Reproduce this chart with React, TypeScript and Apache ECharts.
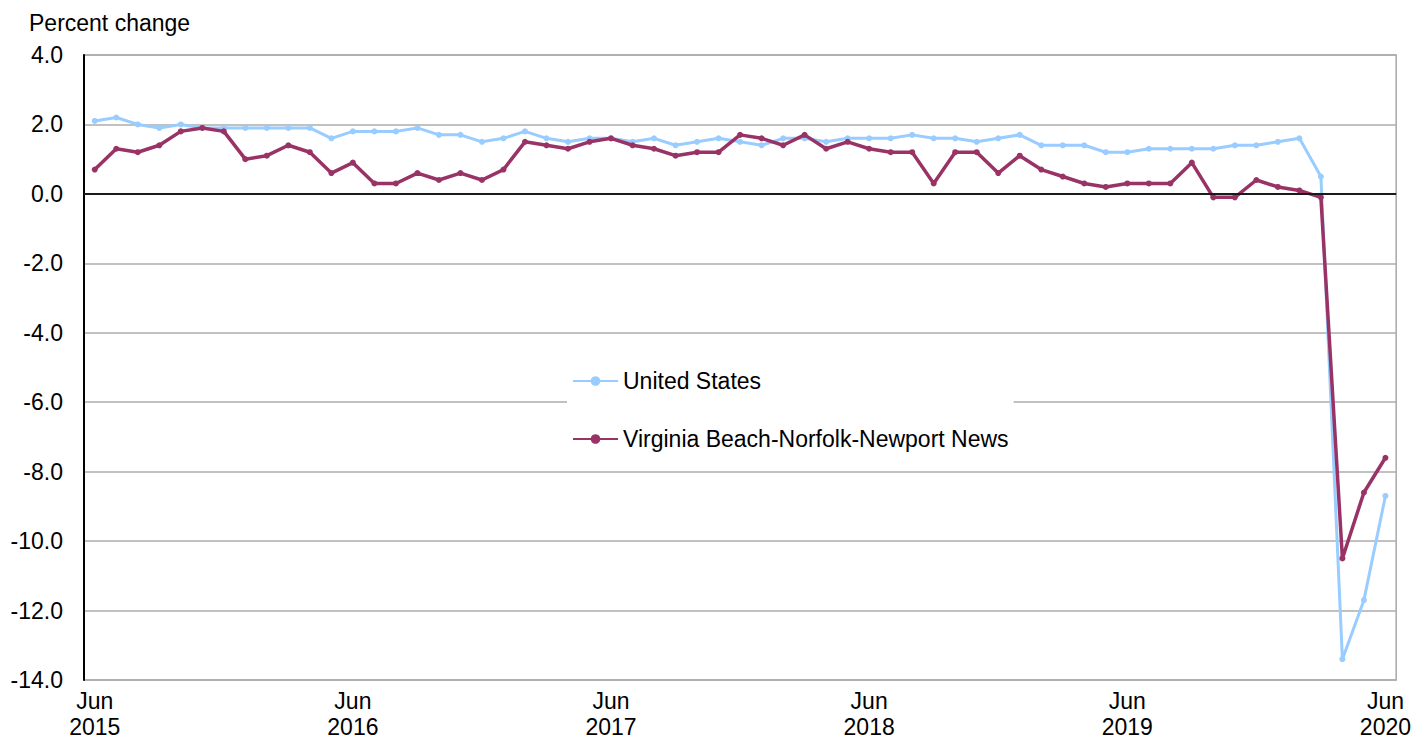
import React, { useEffect, useRef } from "react";
import * as echarts from "echarts";

const MONTHS: string[] = [
  "Jun 2015", "Jul 2015", "Aug 2015", "Sep 2015", "Oct 2015", "Nov 2015", "Dec 2015",
  "Jan 2016", "Feb 2016", "Mar 2016", "Apr 2016", "May 2016", "Jun 2016", "Jul 2016", "Aug 2016", "Sep 2016", "Oct 2016", "Nov 2016", "Dec 2016",
  "Jan 2017", "Feb 2017", "Mar 2017", "Apr 2017", "May 2017", "Jun 2017", "Jul 2017", "Aug 2017", "Sep 2017", "Oct 2017", "Nov 2017", "Dec 2017",
  "Jan 2018", "Feb 2018", "Mar 2018", "Apr 2018", "May 2018", "Jun 2018", "Jul 2018", "Aug 2018", "Sep 2018", "Oct 2018", "Nov 2018", "Dec 2018",
  "Jan 2019", "Feb 2019", "Mar 2019", "Apr 2019", "May 2019", "Jun 2019", "Jul 2019", "Aug 2019", "Sep 2019", "Oct 2019", "Nov 2019", "Dec 2019",
  "Jan 2020", "Feb 2020", "Mar 2020", "Apr 2020", "May 2020", "Jun 2020",
];

const US_VALUES: number[] = [
  2.1, 2.2, 2.0, 1.9, 2.0, 1.9, 1.9, 1.9, 1.9, 1.9, 1.9, 1.6,
  1.8, 1.8, 1.8, 1.9, 1.7, 1.7, 1.5, 1.6, 1.8, 1.6, 1.5, 1.6,
  1.6, 1.5, 1.6, 1.4, 1.5, 1.6, 1.5, 1.4, 1.6, 1.6, 1.5, 1.6,
  1.6, 1.6, 1.7, 1.6, 1.6, 1.5, 1.6, 1.7, 1.4, 1.4, 1.4, 1.2,
  1.2, 1.3, 1.3, 1.3, 1.3, 1.4, 1.4, 1.5, 1.6, 0.5, -13.4, -11.7,
  -8.7,
];

const VB_VALUES: number[] = [
  0.7, 1.3, 1.2, 1.4, 1.8, 1.9, 1.8, 1.0, 1.1, 1.4, 1.2, 0.6,
  0.9, 0.3, 0.3, 0.6, 0.4, 0.6, 0.4, 0.7, 1.5, 1.4, 1.3, 1.5,
  1.6, 1.4, 1.3, 1.1, 1.2, 1.2, 1.7, 1.6, 1.4, 1.7, 1.3, 1.5,
  1.3, 1.2, 1.2, 0.3, 1.2, 1.2, 0.6, 1.1, 0.7, 0.5, 0.3, 0.2,
  0.3, 0.3, 0.3, 0.9, -0.1, -0.1, 0.4, 0.2, 0.1, -0.1, -10.5, -8.6,
  -7.6,
];

const SERIES_NAMES = ["United States", "Virginia Beach-Norfolk-Newport News"];
const Y_TITLE = "Percent change";

const FONT = "Arial, 'Liberation Sans', sans-serif";
const FS = 23;

export default function App() {
  const ref = useRef<HTMLDivElement>(null);

  useEffect(() => {
    if (!ref.current) return;
    const chart = echarts.init(ref.current, undefined, { renderer: "svg" });
    chart.setOption({
      animation: false,
      backgroundColor: "#ffffff",
      textStyle: { fontFamily: FONT },
      title: {
        text: Y_TITLE,
        left: 24,
        top: 6,
        textStyle: { fontFamily: FONT, fontSize: FS, fontWeight: "normal", color: "#000" },
      },
      grid: {
        left: 84,
        right: 17,
        top: 55,
        bottom: 63,
        show: true,
        borderColor: "#a8a8a8",
        borderWidth: 1.5,
        containLabel: false,
      },
      legend: {
        orient: "vertical",
        left: 567,
        top: 358,
        padding: [10, 5, 10, 5],
        backgroundColor: "#ffffff",
        itemGap: 32,
        itemWidth: 45,
        itemHeight: 12,
        data: SERIES_NAMES,
        textStyle: { fontFamily: FONT, fontSize: FS, color: "#000", lineHeight: 26 },
      },
      xAxis: {
        type: "category",
        data: MONTHS,
        boundaryGap: true,
        axisLine: { show: false, onZero: false },
        axisTick: { show: false },
        splitLine: { show: false },
        axisLabel: {
          interval: 11,
          margin: 8,
          fontFamily: FONT,
          fontSize: FS,
          lineHeight: 26,
          color: "#000",
          formatter: (v: string) => v.replace(" ", "\n"),
        },
      },
      yAxis: {
        type: "value",
        min: -14,
        max: 4,
        interval: 2,
        axisLine: { show: true, lineStyle: { color: "#000", width: 2 } },
        axisTick: { show: false },
        axisLabel: {
          margin: 21,
          fontFamily: FONT,
          fontSize: FS,
          color: "#000",
          formatter: (v: number) => v.toFixed(1),
        },
        splitLine: { show: true, lineStyle: { color: "#acacac", width: 1.5 } },
      },
      series: [
        {
          name: SERIES_NAMES[0],
          type: "line",
          data: US_VALUES,
          symbol: "circle",
          symbolSize: 6,
          itemStyle: { color: "#99ccff" },
          lineStyle: { color: "#99ccff", width: 3 },
          z: 2,
          markLine: {
            silent: true,
            symbol: "none",
            label: { show: false },
            lineStyle: { color: "#1a1a1a", width: 2, type: "solid" },
            data: [{ yAxis: 0 }],
          },
        },
        {
          name: SERIES_NAMES[1],
          type: "line",
          data: VB_VALUES,
          symbol: "circle",
          symbolSize: 6,
          itemStyle: { color: "#993366" },
          lineStyle: { color: "#993366", width: 3.5 },
          z: 3,
        },
      ],
    });
    return () => chart.dispose();
  }, []);

  return (
    <div
      ref={ref}
      style={{ position: "fixed", left: 0, top: 0, width: 1414, height: 743 }}
    />
  );
}
